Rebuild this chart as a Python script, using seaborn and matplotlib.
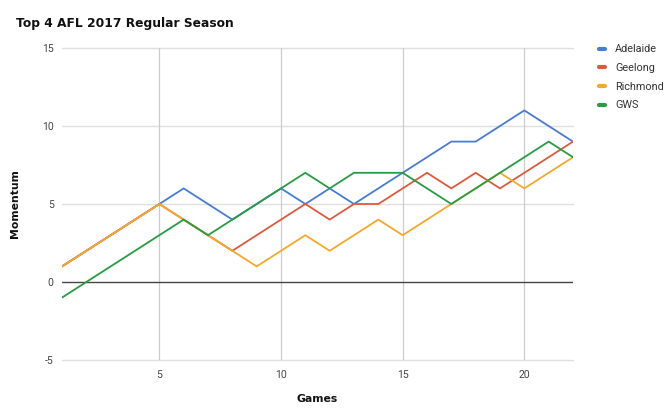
import numpy as np
import pandas as pd
import seaborn as sns
import matplotlib.pyplot as plt
from matplotlib.lines import Line2D

# Momentum per game
games = list(range(1, 23))
adelaide = [1, 2, 3, 4, 5, 6, 5, 4, 5, 6, 5, 6, 5, 6, 7, 8, 9, 9, 10, 11, 10, 9]
geelong = [1, 2, 3, 4, 5, 4, 3, 2, 3, 4, 5, 4, 5, 5, 6, 7, 6, 7, 6, 7, 8, 9]
richmond = [1, 2, 3, 4, 5, 4, 3, 2, 1, 2, 3, 2, 3, 4, 3, 4, 5, 6, 7, 6, 7, 8]
gws = [-1, 0, 1, 2, 3, 4, 3, 4, 5, 6, 7, 6, 7, 7, 7, 6, 5, 6, 7, 8, 9, 8]
teams = ["Adelaide", "Geelong", "Richmond", "GWS"]
colors = ["#4a7bd3", "#dc5a3e", "#f5a82c", "#279c43"]
x_ticks = [5, 10, 15, 20]
y_ticks = [-5, 0, 5, 10, 15]

df = pd.DataFrame({"Games": games, "Adelaide": adelaide, "Geelong": geelong,
                   "Richmond": richmond, "GWS": gws})
long_df = pd.melt(df, ["Games"], var_name="Team", value_name="Momentum")

sns.set_theme(style="white")
plt.rcParams["font.family"] = ["Roboto", "DejaVu Sans"]
plt.rcParams["axes.unicode_minus"] = False

fig = plt.figure(figsize=(6.68, 4.12), dpi=100)
ax = fig.add_axes([62 / 668, 1 - 360 / 412, 511 / 668, 312 / 412])

# grid first so lines sit on top
for y in y_ticks:
    if y == 0:
        continue
    ax.axhline(y, color="#e0e0e0", lw=1.0, zorder=0, clip_on=False)
for x in x_ticks:
    ax.axvline(x, color="#cccccc", lw=0.9, zorder=0)
ax.axhline(0, color="#444444", lw=1.0, zorder=1)

sns.lineplot(data=long_df, x="Games", y="Momentum", hue="Team", hue_order=teams,
             palette=colors, linewidth=1.3, ax=ax, legend=False, zorder=3)

ax.set_xlim(1, 22)
ax.set_ylim(-5, 15)
ax.set_xticks(x_ticks)
ax.set_yticks(y_ticks)
ax.tick_params(axis="both", length=0, labelsize=7.5, labelcolor="#444444")
ax.tick_params(axis="x", pad=7)
ax.tick_params(axis="y", pad=6)
for s in ax.spines.values():
    s.set_visible(False)

ax.set_xlabel("Games", fontsize=7.8, fontweight="bold", family="DejaVu Sans", color="#111111")
ax.set_ylabel("Momentum", fontsize=7.8, fontweight="bold", family="DejaVu Sans", color="#111111")
ax.xaxis.set_label_coords((317 - 62) / 511, (360 - 394) / 312)
ax.yaxis.set_label_coords((20 - 62) / 511, 0.5)

fig.text(16 / 668, 1 - 23 / 412, "Top 4 AFL 2017 Regular Season", fontsize=8.8,
         fontweight="bold", family="DejaVu Sans", ha="left", va="center", color="#111111")

handles = [Line2D([0], [0], color=c, lw=3) for c in colors]
leg = fig.legend(handles, teams, loc="upper left", bbox_to_anchor=(595 / 668, 1 - 40 / 412),
                 frameon=False, fontsize=7.8, handlelength=0.55, handletextpad=0.9,
                 labelspacing=0.8, borderaxespad=0)
for t in leg.get_texts():
    t.set_color("#333333")

fig.savefig("out.png", dpi=100)
